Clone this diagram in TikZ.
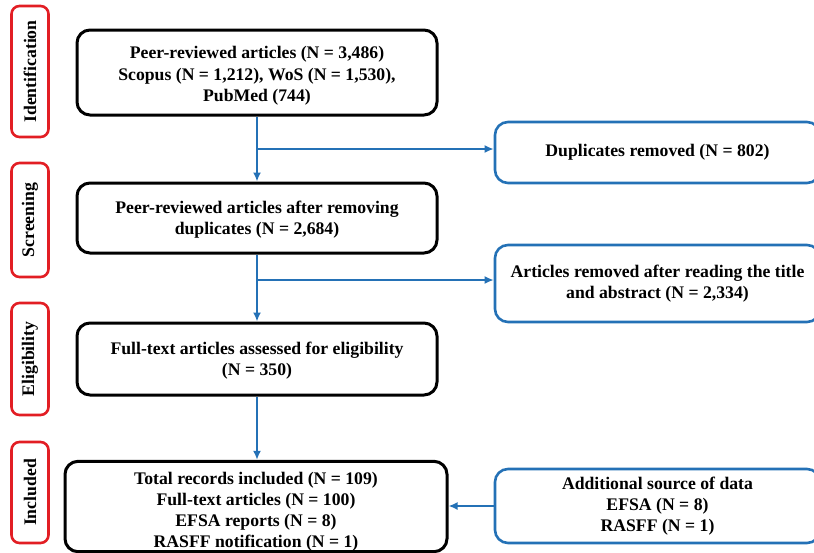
\documentclass[tikz,border=0pt]{standalone}
\usepackage{fontspec}
\setmainfont{Liberation Serif}
\usetikzlibrary{arrows.meta}
\definecolor{stagered}{RGB}{226,30,36}
\definecolor{flowblue}{RGB}{36,113,182}
\newcommand{\lowr}[1]{\rule{0pt}{#1}}
\begin{document}
\begin{tikzpicture}[x=1pt,y=-1pt,
  txt/.style={font=\bfseries\fontsize{17.7}{21.2}\selectfont, align=center},
  stage/.style={txt, draw=stagered, line width=2.6pt, rounded corners=8pt, rotate=90, inner sep=0pt},
  mainbox/.style={txt, draw=black, line width=3pt, rounded corners=13pt, inner sep=0pt},
  sidebox/.style={txt, draw=flowblue, line width=2.6pt, rounded corners=13pt, inner sep=0pt},
  flow/.style={draw=flowblue, line width=2.8pt, -{Latex[length=9pt,width=8pt]}}]
\useasboundingbox (0,0) rectangle (814,552);
\clip (0,0) rectangle (814,552);
% stage labels
\node[stage, minimum width=131pt, minimum height=37pt] (idn) at (30,71.5) {Identification};
\node[stage, minimum width=114pt, minimum height=37pt] (scr) at (30,220) {Screening};
\node[stage, minimum width=112pt, minimum height=37pt] (elg) at (30,359) {Eligibility};
\node[stage, minimum width=101pt, minimum height=37pt] (inc) at (30,492.5) {Included};
% main boxes
\node[mainbox, minimum width=360pt, minimum height=85pt] (b1) at (257,72.5)
  {\lowr{19pt}Peer-reviewed articles (N = 3,486)\\Scopus (N = 1,212), WoS (N = 1,530),\\PubMed (744)};
\node[mainbox, minimum width=360pt, minimum height=70pt] (b2) at (257,218)
  {\lowr{16pt}Peer-reviewed articles after removing\\duplicates (N = 2,684)};
\node[mainbox, minimum width=360pt, minimum height=72pt] (b3) at (257,359)
  {\lowr{15pt}Full-text articles assessed for eligibility\\(N = 350)};
\node[mainbox, minimum width=382pt, minimum height=83pt] (b4) at (256,506.5)
  {\lowr{23pt}Total records included (N = 109)\\Full-text articles (N = 100)\\EFSA reports (N = 8)\\RASFF notification (N = 1)};
% side boxes
\node[sidebox, minimum width=325pt, minimum height=61pt] (s1) at (657.5,152.5)
  {Duplicates removed (N = 802)};
\node[sidebox, minimum width=325pt, minimum height=77pt] (s2) at (657.5,283.5)
  {Articles removed after reading the title\\and abstract (N = 2,334)};
\node[sidebox, minimum width=325pt, minimum height=74pt] (s3) at (657.5,506)
  {Additional source of data\\EFSA (N = 8)\\RASFF (N = 1)};
% connectors
\coordinate (j1) at (257,149);
\coordinate (j2) at (257,280);
\draw[flow] (b1.south) -- (b2.north);
\draw[flow] (j1) -- (j1 -| s1.west);
\draw[flow] (b2.south) -- (b3.north);
\draw[flow] (j2) -- (j2 -| s2.west);
\draw[flow] (b3.south) -- (b3.south |- b4.north);
\draw[flow] (s3.west) -- (s3.west -| b4.east);
\end{tikzpicture}
\end{document}
